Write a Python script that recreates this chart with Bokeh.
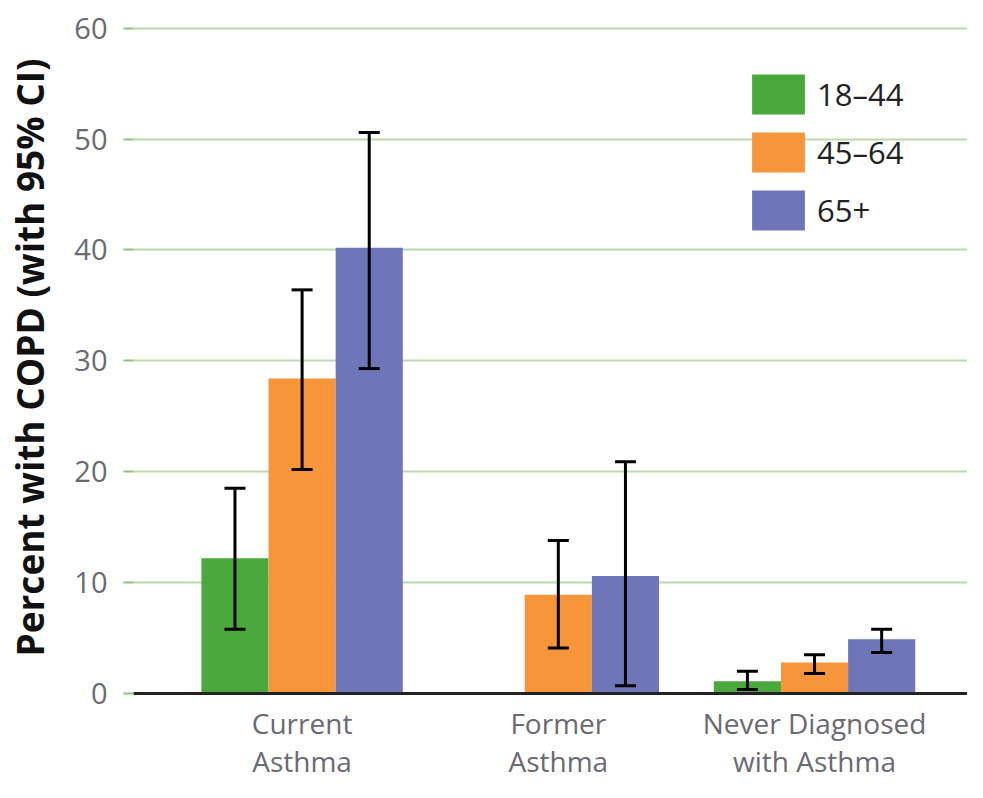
from bokeh.plotting import figure
from bokeh.models import ColumnDataSource, Whisker, Range1d, FixedTicker, Legend, LegendItem, TeeHead
from bokeh.embed import file_html
from bokeh.resources import INLINE

groups = ["Current\nAsthma", "Former\nAsthma", "Never Diagnosed\nwith Asthma"]
ages = ["18–44", "45–64", "65+"]
colors = ["#4aa83d", "#f7953b", "#6e75b8"]

# values per age band, per group (None = not shown)
val_18_44 = [12.2, None, 1.1]
val_45_64 = [28.4, 8.9, 2.8]
val_65 = [40.2, 10.6, 4.9]
low_18_44 = [5.8, None, 0.35]
low_45_64 = [20.2, 4.1, 1.8]
low_65 = [29.3, 0.7, 3.7]
up_18_44 = [18.5, None, 2.0]
up_45_64 = [36.4, 13.8, 3.5]
up_65 = [50.6, 20.9, 5.8]

series = [(val_18_44, low_18_44, up_18_44), (val_45_64, low_45_64, up_45_64), (val_65, low_65, up_65)]
offsets = [-0.262, 0.0, 0.262]
bar_w = 0.262

p = figure(width=967, height=782, output_backend="svg", toolbar_location=None,
           x_range=Range1d(-0.658, 2.597), y_range=Range1d(0, 60.6),
           min_border_left=133, min_border_right=0, min_border_top=21, min_border_bottom=87)
p.outline_line_color = None
p.xgrid.grid_line_color = None
p.ygrid.grid_line_color = "#bcd9ad"
p.ygrid.grid_line_width = 2
p.ygrid.ticker = FixedTicker(ticks=[10, 20, 30, 40, 50, 60])

items = []
for i, (vals, lows, ups) in enumerate(series):
    xs, tops, ls, us = [], [], [], []
    for g in range(len(groups)):
        if vals[g] is None:
            continue
        xs.append(g + offsets[i]); tops.append(vals[g]); ls.append(lows[g]); us.append(ups[g])
    src = ColumnDataSource(dict(x=xs, top=tops, lower=ls, upper=us))
    r = p.vbar(x="x", top="top", width=bar_w, bottom=0, source=src, fill_color=colors[i], line_color=None)
    items.append(LegendItem(label=ages[i], renderers=[r]))
    w = Whisker(base="x", lower="lower", upper="upper", source=src, line_color="black", line_width=3,
                level="overlay",
                upper_head=TeeHead(size=21, line_width=3, line_color="black"),
                lower_head=TeeHead(size=21, line_width=3, line_color="black"))
    p.add_layout(w)

# axes
p.yaxis.ticker = FixedTicker(ticks=[0, 10, 20, 30, 40, 50, 60])
p.yaxis.axis_line_color = None
p.yaxis.major_tick_line_color = "#8fbf7c"
p.yaxis.major_tick_line_width = 2
p.yaxis.major_tick_out = 10
p.yaxis.major_tick_in = 0
p.yaxis.minor_tick_line_color = None
p.yaxis.major_label_standoff = 16
p.yaxis.major_label_text_font = "Open Sans"
p.yaxis.major_label_text_font_size = "29px"
p.yaxis.major_label_text_color = "#6a6a72"
p.yaxis.axis_label = "Percent with COPD (with 95% CI)"
p.yaxis.axis_label_text_font = "Open Sans"
p.yaxis.axis_label_text_font_style = "bold"
p.yaxis.axis_label_text_font_size = "37px"
p.yaxis.axis_label_text_color = "#111111"
p.yaxis.axis_label_standoff = 16

p.xaxis.ticker = FixedTicker(ticks=[0, 1, 2])
p.xaxis.major_label_overrides = {0: groups[0], 1: groups[1], 2: groups[2]}
p.xaxis.axis_line_color = "#222222"
p.xaxis.axis_line_width = 3
p.xaxis.major_tick_line_color = None
p.xaxis.minor_tick_line_color = None
p.xaxis.major_label_standoff = 4
p.xaxis.major_label_text_font = "Open Sans"
p.xaxis.major_label_text_font_size = "28px"
p.xaxis.major_label_text_line_height = 1.0
p.xaxis.major_label_text_color = "#6a6a72"

legend = Legend(items=items, location=(612, 458), glyph_width=66, glyph_height=50, spacing=8,
                label_standoff=6, padding=0, margin=0, border_line_color=None,
                background_fill_alpha=0, label_text_font="Open Sans", label_text_font_size="31px",
                label_text_color="#222222", label_height=50)
p.add_layout(legend, "center")

open("out.html", "w").write(file_html(p, INLINE))
